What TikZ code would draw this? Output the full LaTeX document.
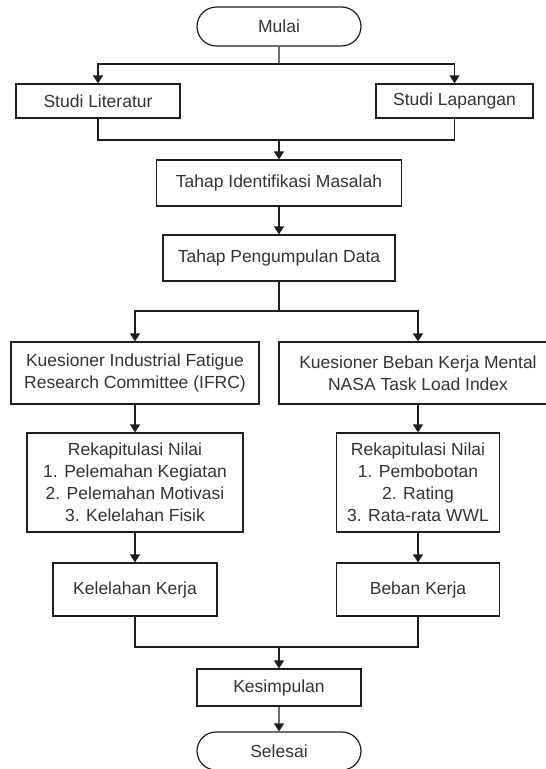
\documentclass[tikz,border=0pt]{standalone}
\usepackage{fontspec}
\setmainfont{Liberation Sans}
\usetikzlibrary{arrows.meta,shapes.misc}
\definecolor{garis}{HTML}{1E1E1E}
\definecolor{tulisan}{HTML}{333333}
\tikzset{
	kotak/.style={draw=garis, line width=1.2pt, text=tulisan, align=center, inner sep=0pt,
		font=\fontsize{17.5}{22}\selectfont},
	terminal/.style={kotak, rounded rectangle},
	alur/.style={draw=garis, line width=1.2pt},
	panah/.style={alur, -{Triangle[length=8pt,width=10pt]}}
}
\begin{document}
\begin{tikzpicture}[x=1pt, y=-1pt]
			% Definizioni per le colonne
			\def\kiri{135}
			\def\tengah{279}
			\def\kanan{418}
			
			\path[use as bounding box, clip] (0,0) rectangle (546,769);
			
			% --- Awal ---
			\node[terminal, minimum width=164pt, minimum height=39pt] (mulai) at (\tengah,26.5) {Mulai};
			\node[kotak, minimum width=164pt, minimum height=34pt] (lit) at (98,101) {Studi Literatur};
			\node[kotak, minimum width=157pt, minimum height=34pt] (lap) at (454.5,101) {Studi Lapangan};
			\node[kotak, minimum width=245pt, minimum height=46pt] (ident) at (\tengah,183) {Tahap Identifikasi Masalah};
			\node[kotak, minimum width=232pt, minimum height=46pt] (kumpul) at (\tengah,258) {Tahap Pengumpulan Data};
			
			% --- Kuesioner ---
			\node[kotak, minimum width=248pt, minimum height=62pt] (ifrc) at (\kiri,373)
			{Kuesioner Industrial Fatigue\\Research Committee (IFRC)};
			\node[kotak, minimum width=278pt, minimum height=62pt] (nasa) at (\kanan,373)
			{Kuesioner Beban Kerja Mental\\NASA Task Load Index};
			\node[kotak, minimum width=216pt, minimum height=99pt] (rekap1) at (\kiri,482.5)
			{Rekapitulasi Nilai\\1. Pelemahan Kegiatan\\2. Pelemahan Motivasi\\3. Kelelahan Fisik};
			\node[kotak, minimum width=163pt, minimum height=99pt] (rekap2) at (\kanan,482.5)
			{Rekapitulasi Nilai\\1. Pembobotan\\2. Rating\\3. Rata-rata WWL};
			\node[kotak, minimum width=164pt, minimum height=53pt] (lelah) at (\kiri,589.5) {Kelelahan Kerja};
			\node[kotak, minimum width=163pt, minimum height=53pt] (beban) at (\kanan,589.5) {Beban Kerja};
			
			% --- Akhir ---
			\node[kotak, minimum width=164pt, minimum height=37pt] (simpul) at (\tengah,687.5) {Kesimpulan};
			\node[terminal, minimum width=164pt, minimum height=38pt] (selesai) at (\tengah,751) {Selesai};
			
			% --- Titik cabang ---
			\coordinate (cabang1) at (\tengah,64);
			\coordinate (gabung1) at (\tengah,140);
			\coordinate (cabang2) at (\tengah,311);
			\coordinate (gabung2) at (\tengah,647);
			
			% --- Garis alur ---
			\draw[alur] (mulai) -- (cabang1);
			\draw[panah] (cabang1) -| (lit);
			\draw[panah] (cabang1) -| (lap);
			\draw[alur] (lit) |- (gabung1);
			\draw[alur] (lap) |- (gabung1);
			\draw[panah] (gabung1) -- (ident);
			\draw[panah] (ident) -- (kumpul);
			\draw[alur] (kumpul) -- (cabang2);
			\draw[panah] (cabang2) -| (ifrc);
			\draw[panah] (cabang2) -| (nasa);
			\draw[panah] (ifrc) -- (rekap1);
			\draw[panah] (nasa) -- (rekap2);
			\draw[panah] (rekap1) -- (lelah);
			\draw[panah] (rekap2) -- (beban);
			\draw[alur] (lelah) |- (gabung2);
			\draw[alur] (beban) |- (gabung2);
			\draw[panah] (gabung2) -- (simpul);
			\draw[panah] (simpul) -- (selesai);
		\end{tikzpicture}
\end{document}
